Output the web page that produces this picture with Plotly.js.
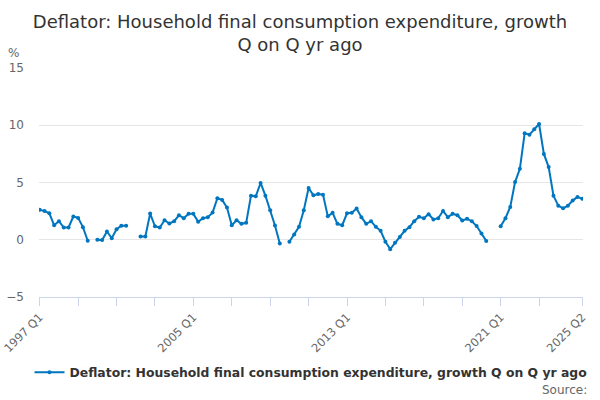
<!DOCTYPE html>
<html>
<head>
<meta charset="utf-8">
<script src="https://cdn.plot.ly/plotly-3.0.1.min.js"></script>
<style>html,body{margin:0;padding:0;background:#fff}#chart{width:600px;height:400px}</style>
</head>
<body>
<div id="chart"></div>
<script>
// Quarterly categories 1997 Q1 .. 2025 Q2
const startYear = 1997;
const quarterCount = 114;
const quarters = [];
for (let i = 0; i < quarterCount; i++) {
  quarters.push((startYear + Math.floor(i / 4)) + ' Q' + (i % 4 + 1));
}

// Deflator growth, % (null = no value shown)
const growth = [
  2.61, 2.52, 2.31, 1.27, 1.62, 1.07, 1.07, 2.03, 1.91, 1.10,
  -0.09, null, 0.00, -0.03, 0.72, 0.14, 0.92, 1.22, 1.22, null,
  null, 0.29, 0.29, 2.29, 1.18, 1.07, 1.70, 1.42, 1.62, 2.14,
  1.88, 2.26, 2.26, 1.57, 1.88, 1.97, 2.37, 3.62, 3.48, 2.81,
  1.27, 1.70, 1.39, 1.48, 3.85, 3.79, 4.96, 3.85, 2.57, 1.24,
  -0.32, null, -0.17, 0.46, 1.13, 2.57, 4.52, 3.88, 4.00, 3.94,
  2.05, 2.35, 1.39, 1.27, 2.31, 2.35, 2.72, 1.97, 1.39, 1.62,
  1.13, 0.78, -0.17, -0.82, -0.26, 0.23, 0.78, 1.10, 1.62, 2.00,
  1.88, 2.23, 1.77, 1.88, 2.52, 1.97, 2.26, 2.14, 1.68, 1.83,
  1.62, 1.20, 0.55, -0.10, null, null, 1.18, 1.88, 2.87, 5.04,
  6.20, 9.30, 9.18, 9.65, 10.11, 7.50, 6.35, 3.85, 2.98, 2.75,
  2.98, 3.42, 3.74, 3.57
];

// Axis ticks
const tickQuarters = ['1997 Q1','1999 Q1','2001 Q1','2003 Q1','2005 Q1','2007 Q1','2009 Q1','2011 Q1',
  '2013 Q1','2015 Q1','2017 Q1','2019 Q1','2021 Q1','2023 Q1','2025 Q2'];
const labelledQuarters = ['1997 Q1','2005 Q1','2013 Q1','2021 Q1','2025 Q2'];
const tickText = tickQuarters.map(q => labelledQuarters.includes(q) ? q : '');
const yTicks = [-5, 0, 5, 10, 15];

const seriesName = 'Deflator: Household final consumption expenditure, growth Q on Q yr ago';
const chartTitle = 'Deflator: Household final consumption expenditure, growth<br>Q on Q yr ago';

const blue = '#0076c0';
const font = 'DejaVu Sans, sans-serif';

Plotly.newPlot('chart', [{
  type: 'scatter',
  mode: 'lines+markers',
  x: quarters,
  y: growth,
  name: seriesName,
  connectgaps: false,
  line: {color: blue, width: 2},
  marker: {color: blue, size: 4}
}], {
  width: 600, height: 400,
  margin: {l: 39, r: 17, t: 68, b: 103},
  paper_bgcolor: '#fff', plot_bgcolor: '#fff',
  font: {family: font, color: '#666', size: 12},
  title: {text: chartTitle, font: {family: font, size: 18, color: '#333'},
    x: 0.5, xanchor: 'center', y: 0.93, yanchor: 'top', yref: 'container'},
  xaxis: {
    type: 'category',
    categoryorder: 'array', categoryarray: quarters,
    range: [-0.15, 113.15],
    tickmode: 'array', tickvals: tickQuarters, ticktext: tickText,
    tickangle: -45, ticks: 'outside', ticklen: 8, tickcolor: '#ccd6eb', tickwidth: 1,
    showline: true, linecolor: '#ccd6eb', linewidth: 1,
    showgrid: false, zeroline: false,
    tickfont: {family: font, size: 11.5, color: '#666'}
  },
  yaxis: {
    range: [-5, 15], tickmode: 'array', tickvals: yTicks,
    showgrid: true, gridcolor: '#e6e6e6', gridwidth: 1,
    zeroline: false, showline: false, ticks: '',
    ticklabelstandoff: 14,
    tickfont: {family: font, size: 12, color: '#666'}
  },
  showlegend: true,
  legend: {orientation: 'h', x: 0.5, xanchor: 'center', y: -0.33, yanchor: 'middle',
    font: {family: font, size: 12.4, color: '#333', weight: 'bold'}},
  annotations: [
    {text: '%', xref: 'paper', yref: 'paper', x: -0.046, y: 1.065, xanchor: 'center', yanchor: 'middle',
      showarrow: false, font: {family: font, size: 12, color: '#666'}},
    {text: 'Source:', xref: 'paper', yref: 'paper', x: 1.011, y: -0.406, xanchor: 'right', yanchor: 'middle',
      showarrow: false, font: {family: font, size: 12, color: '#666'}}
  ]
}, {displayModeBar: false, staticPlot: true});
</script>
</body>
</html>
